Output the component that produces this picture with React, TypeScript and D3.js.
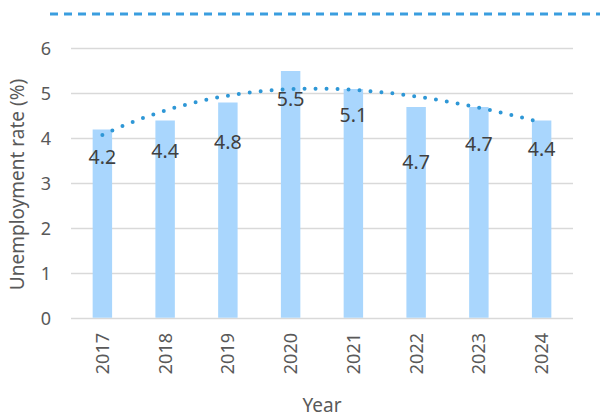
import React from "react";
import * as d3 from "d3";

// Annual unemployment rate
const years = ["2017", "2018", "2019", "2020", "2021", "2022", "2023", "2024"];
const rates = [4.2, 4.4, 4.8, 5.5, 5.1, 4.7, 4.7, 4.4];
const yTicks = [0, 1, 2, 3, 4, 5, 6];

// Vertical placement of each value label, in px below the bar top
const labelDy = [27.5, 30.5, 39.5, 28, 26, 54.5, 36.5, 28];

const W = 600;
const H = 417;
const M = { left: 71, right: 27, top: 48.5, bottom: 98.5 };

const FONT = "'Noto Sans', 'Open Sans', sans-serif";
const TEXT = "#595959";

// Least-squares polynomial fit (order 3) used for the trendline
function polyFit(xs: number[], ys: number[], order: number): number[] {
  const n = order + 1;
  const A: number[][] = Array.from({ length: n }, () => new Array(n + 1).fill(0));
  for (let r = 0; r < n; r++) {
    for (let c = 0; c < n; c++) {
      A[r][c] = d3.sum(xs, (x) => Math.pow(x, r + c));
    }
    A[r][n] = d3.sum(xs, (x, i) => Math.pow(x, r) * ys[i]);
  }
  for (let i = 0; i < n; i++) {
    let p = i;
    for (let k = i + 1; k < n; k++) if (Math.abs(A[k][i]) > Math.abs(A[p][i])) p = k;
    [A[i], A[p]] = [A[p], A[i]];
    for (let k = i + 1; k < n; k++) {
      const f = A[k][i] / A[i][i];
      for (let j = i; j <= n; j++) A[k][j] -= f * A[i][j];
    }
  }
  const coef = new Array(n).fill(0);
  for (let i = n - 1; i >= 0; i--) {
    let s = A[i][n];
    for (let j = i + 1; j < n; j++) s -= A[i][j] * coef[j];
    coef[i] = s / A[i][i];
  }
  return coef;
}

export default function App() {
  const x = d3
    .scaleBand<string>()
    .domain(years)
    .range([M.left, W - M.right])
    .paddingInner(0.69)
    .paddingOuter(0.345);
  const y = d3.scaleLinear().domain([0, 6]).range([H - M.bottom, M.top]);

  const band = x.step();
  const cx = (i: number) => M.left + band * (i + 0.5);

  const idx = years.map((_, i) => i + 1);
  const coef = polyFit(idx, rates, 3);
  const trend = (t: number) => coef.reduce((s, c, k) => s + c * Math.pow(t, k), 0);
  const samples = d3.range(1, years.length + 0.001, 0.05);
  const line = d3
    .line<number>()
    .x((t) => cx(t - 1))
    .y((t) => y(trend(t)))
    .curve(d3.curveLinear);

  return (
    <svg
      width={W}
      height={H}
      style={{ position: "absolute", left: 0, top: 0, background: "#fff" }}
      fontFamily={FONT}
    >
      {/* dashed rule along the top */}
      <line
        x1={50}
        x2={W}
        y1={14}
        y2={14}
        stroke="#3A9EDF"
        strokeWidth={3}
        strokeDasharray="8 6"
      />

      {/* gridlines */}
      {yTicks.map((t) => (
        <line
          key={t}
          x1={M.left}
          x2={W - M.right}
          y1={y(t)}
          y2={y(t)}
          stroke="#d9d9d9"
          strokeWidth={t === 0 ? 1.6 : 1.3}
        />
      ))}

      {/* y tick labels */}
      {yTicks.map((t) => (
        <text
          key={t}
          x={51}
          y={y(t)}
          dy="0.36em"
          textAnchor="end"
          fontSize={18}
          fill={TEXT}
        >
          {t}
        </text>
      ))}

      {/* bars */}
      {years.map((yr, i) => (
        <rect
          key={yr}
          x={x(yr)}
          y={y(rates[i])}
          width={x.bandwidth()}
          height={y(0) - y(rates[i]) - 0.8}
          fill="#A9D6FD"
        />
      ))}

      {/* trendline */}
      <path
        d={line(samples) || ""}
        fill="none"
        stroke="#2E97D6"
        strokeWidth={4}
        strokeLinecap="round"
        strokeDasharray="0 11"
      />

      {/* value labels */}
      {years.map((yr, i) => (
        <text
          key={yr}
          x={cx(i)}
          y={y(rates[i]) + labelDy[i]}
          dy="0.36em"
          textAnchor="middle"
          fontSize={19.5}
          fill="#404040"
        >
          {rates[i].toFixed(1)}
        </text>
      ))}

      {/* x tick labels */}
      {years.map((yr, i) => (
        <text
          key={yr}
          transform={`translate(${cx(i)},333) rotate(-90)`}
          dy="0.36em"
          textAnchor="end"
          fontSize={18}
          fill={TEXT}
        >
          {yr}
        </text>
      ))}

      {/* axis titles */}
      <text
        x={(M.left + W - M.right) / 2}
        y={412}
        textAnchor="middle"
        fontSize={19}
        fill={TEXT}
      >
        Year
      </text>
      <text
        transform={`translate(17,${(y(0) + y(6)) / 2 + 1}) rotate(-90)`}
        dy="0.36em"
        textAnchor="middle"
        fontSize={19}
        fill={TEXT}
      >
        Unemployment rate (%)
      </text>
    </svg>
  );
}
